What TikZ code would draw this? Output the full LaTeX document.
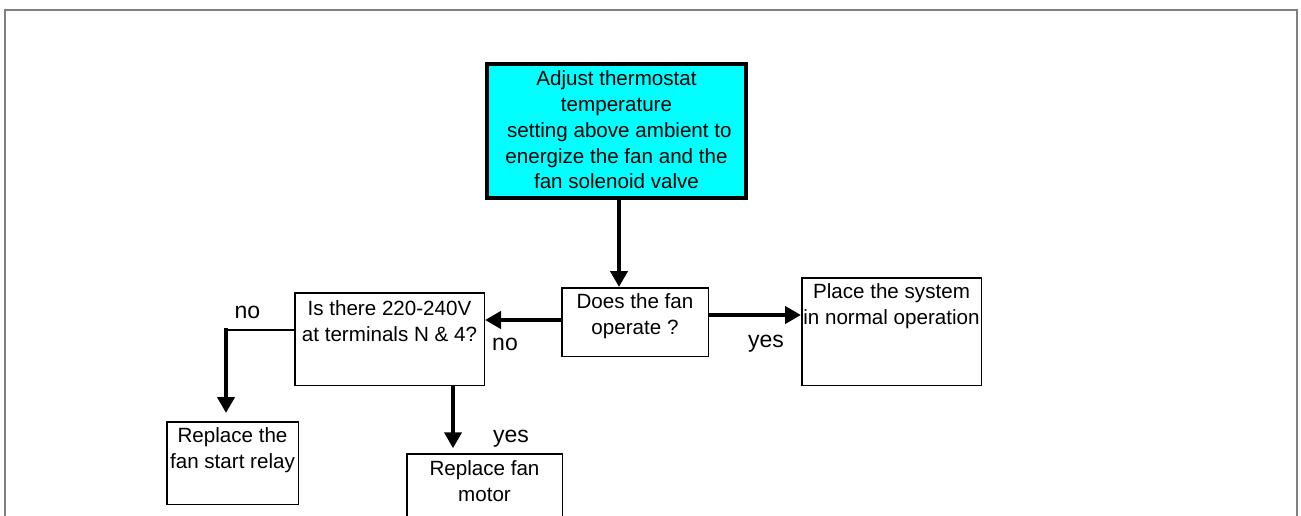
\documentclass[tikz,border=0pt]{standalone}
\usepackage{fontspec}
\setmainfont{Liberation Sans}
\usetikzlibrary{arrows.meta}
\definecolor{framegray}{RGB}{128,128,128}
\definecolor{boxcyan}{RGB}{0,255,255}
\begin{document}
\begin{tikzpicture}[x=1pt,y=-1pt,
  box/.style={draw=black,line width=1.5pt,inner sep=0pt,rectangle},
  txt/.style={align=center,inner sep=0pt,font=\fontsize{20.6}{25.8}\selectfont},
  lbl/.style={inner sep=0pt,font=\fontsize{23}{27}\selectfont},
  arr/.style={line width=4pt,-{Triangle[length=16pt,width=17pt]}},
  thin/.style={line width=1.5pt}
]
\useasboundingbox (0,0) rectangle (1301,516);
\fill[white] (0,0) rectangle (1301,516);
\draw[framegray,line width=2pt] (5,10) rectangle (1297,540);

% boxes
\node[box,line width=4pt,fill=boxcyan,minimum width=259pt,minimum height=134pt] (adj) at (616.5,131) {};
\node[box,minimum width=146.5pt,minimum height=68.5pt] (does) at (635,322) {};
\node[box,minimum width=179.5pt,minimum height=107.5pt] (place) at (891.5,331.5) {};
\node[box,minimum width=189.5pt,minimum height=92.5pt] (isthere) at (389.5,339) {};
\node[box,minimum width=131.5pt,minimum height=82.5pt] (relay) at (232.5,463) {};
\node[box,minimum width=155.5pt,minimum height=76pt] (motor) at (484.5,492) {};

% texts
\node[txt] (tadj) at (616.5,130) {Adjust thermostat\\temperature\\\hspace*{0.28em}setting above ambient to\\energize the fan and the\\fan solenoid valve};
\node[txt] (tdoes) at (635,316.5) {Does the fan\\operate ?};
\node[txt] (tplace) at (891.5,306.5) {Place the system\\in normal operation};
\node[txt] (tisthere) at (389.5,321) {Is there 220-240V\\at terminals N \& 4?};
\node[txt] (trelay) at (232.5,450) {Replace the\\fan start relay};
\node[txt] (tmotor) at (484.5,481.5) {Replace fan\\motor};

% labels
\node[lbl] (no1) at (247.5,312) {no};
\node[lbl] (no2) at (505,344.5) {no};
\node[lbl] (yes1) at (766,343.3) {yes};
\node[lbl] (yes2) at (511,439) {yes};

% connectors
\draw[arr] ([xshift=2.5pt]adj.south) -- ([xshift=-16pt]does.north);
\draw[arr] ([yshift=7pt]does.east) -- ([yshift=16.5pt]place.west);
\draw[arr] ([yshift=2pt]does.west) -- ([yshift=19pt]isthere.east);
\draw[arr,shorten >=5pt] ([xshift=63.5pt]isthere.south) -- ([xshift=-31.5pt]motor.north);
\coordinate (bend) at (226,330);
\draw[thin] ([yshift=9pt]isthere.west) -- (bend);
\draw[arr,shorten >=8pt] ([yshift=2pt]bend) -- (relay.north -| bend);
\end{tikzpicture}
\end{document}
